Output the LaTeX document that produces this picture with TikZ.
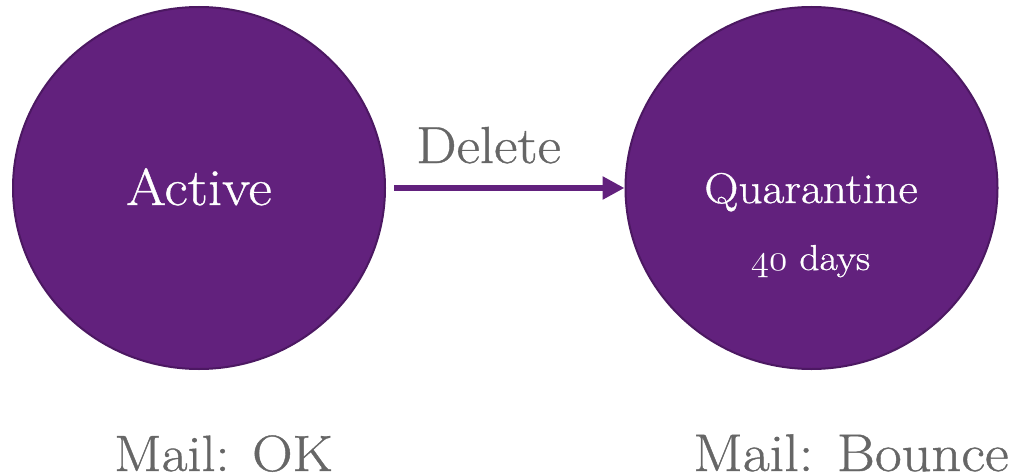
\documentclass[tikz,border=0pt]{standalone}
\usepackage{fontspec}
\usepackage{graphicx}
\usetikzlibrary{arrows.meta,shapes.geometric}
% a slightly wider, heavier cut of Latin Modern for all labels
\newfontfamily\labelfont{Latin Modern Roman}[FakeStretch=1.1,FakeBold=0.8]
% hanging (old-style) figures from Computer Modern math italic, scaled up
\newcommand\osdigits[1]{\scalebox{1.5}{\fontencoding{OML}\fontfamily{cmm}\fontseries{m}\fontshape{it}\fontsize{24.88}{30}\selectfont #1}}
\definecolor{statefill}{RGB}{98,33,125}
\definecolor{stateedge}{RGB}{76,24,98}
\definecolor{labelgray}{RGB}{102,102,102}
\tikzset{
  state/.style={ellipse, fill=statefill, draw=stateedge, line width=2pt,
    minimum width=372pt, minimum height=362pt, inner sep=0pt},
  statetext/.style={text=white, anchor=base, inner sep=0pt},
  caption/.style={text=labelgray, anchor=base, inner sep=0pt},
  transition/.style={draw=statefill, line width=6pt,
    -{Triangle[length=22pt,width=22pt]}}
}
\begin{document}
\begin{tikzpicture}[x=1pt,y=-1pt]
  \useasboundingbox (0,0) rectangle (1014,476);
  % the two mailbox states
  \node[state] (active) at (199,188) {};
  \node[state] (quarantine) at (811.5,188) {};
  % state names
  \node[statetext, font=\labelfont\fontsize{52}{60}\selectfont] (activelbl) at (199,205) {Active};
  \node[statetext, font=\labelfont\fontsize{36}{42}\selectfont] (dayslbl) at (810.5,270) {\osdigits{40} days};
  \node[statetext, font=\labelfont\fontsize{43}{50}\selectfont] (quarlbl) at (811,203) {Quarantine};
  % transition between the states
  \draw[transition, shorten <=8pt] (active.east) -- (quarantine.west);
  \node[caption, font=\labelfont\fontsize{52}{60}\selectfont] (deletelbl) at (488.5,163) {Delete};
  % mail behaviour in each state
  \node[caption, font=\labelfont\fontsize{51}{60}\selectfont] (okmail) at (223.5,471) {Mail: OK};
  \node[caption, font=\labelfont\fontsize{53}{62}\selectfont] (bouncemail) at (851,471) {Mail: Bounce};
\end{tikzpicture}
\end{document}
